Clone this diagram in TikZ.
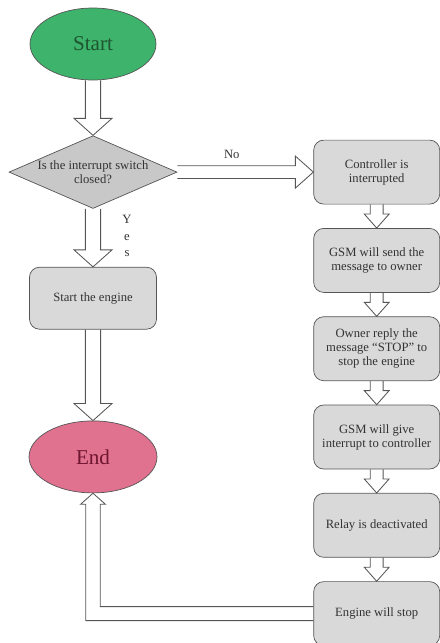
\documentclass[tikz,border=0pt]{standalone}
\usepackage{fontspec}
\setmainfont{Liberation Serif}
\usepackage{tikz}
\usetikzlibrary{shapes.geometric,positioning,calc}
\usepackage{xcolor}

\definecolor{startgreen}{HTML}{3DB36B}
\definecolor{starttext}{HTML}{1F5530}
\definecolor{endpink}{HTML}{E0718F}
\definecolor{endtext}{HTML}{6E1530}
\definecolor{boxgray}{HTML}{D9D9D9}
\definecolor{decgray}{HTML}{C8C8C8}
\definecolor{edgegray}{HTML}{555555}

% hollow block arrows: from, to (tip), shaft half width, head half width, head length
\newcommand{\hollowdown}[5]{%
  \draw[hollow] ($(#2|-#1)+(-#3,0)$) -- ($(#2)+(-#3,#5)$) -- ($(#2)+(-#4,#5)$) -- (#2)
    -- ($(#2)+(#4,#5)$) -- ($(#2)+(#3,#5)$) -- ($(#2|-#1)+(#3,0)$);}
\newcommand{\hollowright}[5]{%
  \draw[hollow] ($(#1|-#2)+(0,#3)$) -- ($(#2)+(-#5,#3)$) -- ($(#2)+(-#5,#4)$) -- (#2)
    -- ($(#2)+(-#5,-#4)$) -- ($(#2)+(-#5,-#3)$) -- ($(#1|-#2)+(0,-#3)$);}

\begin{document}
\begin{tikzpicture}[
  terminal/.style={ellipse, draw=edgegray, line width=0.5pt, inner sep=0pt,
    minimum width=3.15cm, minimum height=1.8cm},
  box/.style={draw=edgegray, fill=boxgray, rounded corners=2.5mm, line width=0.5pt,
    minimum width=3.15cm, minimum height=1.6cm, inner sep=1pt, align=center,
    text=black!80, font=\fontsize{9}{10}\selectfont},
  decision/.style={diamond, draw=edgegray, fill=decgray, line width=0.5pt, inner sep=0pt,
    shape aspect=2.3, minimum width=4.2cm, minimum height=1.82cm, align=center,
    text=black!80, font=\fontsize{9}{10}\selectfont},
  hollow/.style={draw=edgegray, line width=0.6pt, line join=miter},
  lbl/.style={inner sep=0pt, align=center, text=black!80, font=\fontsize{9}{11.5}\selectfont}
]
\useasboundingbox (0,0) rectangle (11,-16.075);

\node[terminal, fill=startgreen, text=starttext, font=\fontsize{15}{17}\selectfont]
  (start) at (2.325,-1.1) {Start};
\node[decision, below=1.375cm of start] (dec) {Is the interrupt switch\\closed?};
\node[box, below=1.45cm of dec, minimum height=1.55cm, minimum width=3.175cm] (engon) {Start the engine};
\node[terminal, below=2.275cm of engon, minimum width=3.2cm, fill=endpink, text=endtext,
  font=\fontsize{15}{17}\selectfont] (end) {End};

\node[box, right=3.4cm of dec] (ctrl) {Controller is\\interrupted};
\node[box, below=0.59cm of ctrl] (gsmsend) {GSM will send the\\message to owner};
\node[box, below=0.59cm of gsmsend] (reply) {Owner reply the\\message “STOP” to\\stop the engine};
\node[box, below=0.59cm of reply] (gsmint) {GSM will give\\interrupt to controller};
\node[box, below=0.59cm of gsmint] (relay) {Relay is deactivated};
\node[box, below=0.59cm of relay] (engoff) {Engine will stop};

\node[lbl] (no) at ($(dec.east)!0.4!(ctrl.west)+(0,0.45)$) {No};
\node[lbl] (yes) at ($(dec.south)+(0.85,-0.68)$) {Y\\e\\s};

\hollowdown{start.south}{dec.north}{1.9mm}{4.75mm}{4.25mm}
\hollowdown{dec.south}{engon.north}{1.9mm}{4.75mm}{4.25mm}
\hollowdown{engon.south}{end.north}{1.9mm}{4.75mm}{4.25mm}
\hollowright{dec.east}{ctrl.west}{1.6mm}{4mm}{4.5mm}
\hollowdown{ctrl.south}{gsmsend.north}{1.6mm}{3.1mm}{3.5mm}
\hollowdown{gsmsend.south}{reply.north}{1.6mm}{3.1mm}{3.5mm}
\hollowdown{reply.south}{gsmint.north}{1.6mm}{3.1mm}{3.5mm}
\hollowdown{gsmint.south}{relay.north}{1.6mm}{3.1mm}{3.5mm}
\hollowdown{relay.south}{engoff.north}{1.6mm}{3.1mm}{3.5mm}
\draw[hollow] ($(engoff.west)+(0,1.75mm)$) -| ($(end.south)+(1.8mm,-2.75mm)$)
  -- ($(end.south)+(3.1mm,-2.75mm)$) -- (end.south) -- ($(end.south)+(-3.1mm,-2.75mm)$)
  -- ($(end.south)+(-1.8mm,-2.75mm)$) |- ($(engoff.west)+(0,-1.75mm)$);
\end{tikzpicture}
\end{document}
